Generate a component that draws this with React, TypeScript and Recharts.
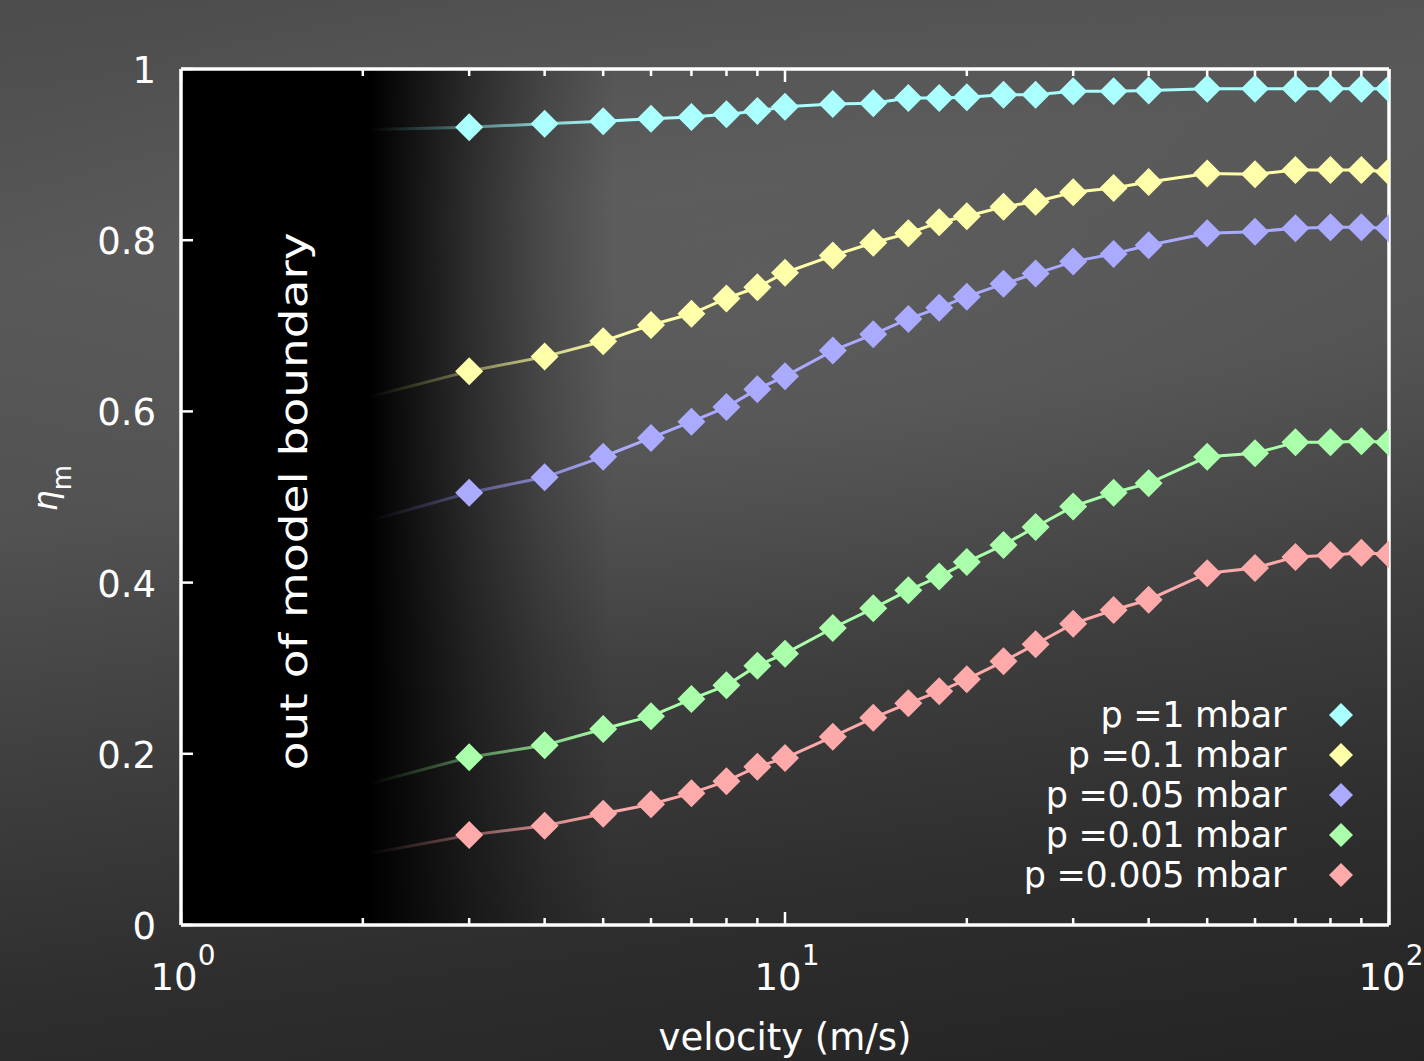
import React from 'react';
import { LineChart, Line, XAxis, YAxis, ReferenceArea, ReferenceDot, Legend } from 'recharts';

// ---- data ----
const velocity = [2, 3, 4, 5, 6, 7, 8, 9, 10, 12, 14, 16, 18, 20, 23, 26, 30, 35, 40, 50, 60, 70, 80, 90, 100];

const eta_p1 = [0.929, 0.932, 0.936, 0.939, 0.942, 0.944, 0.947, 0.951, 0.956, 0.959, 0.960, 0.966, 0.966, 0.967, 0.970, 0.970, 0.974, 0.974, 0.975, 0.977, 0.977, 0.977, 0.977, 0.977, 0.977];
const eta_p01 = [0.615, 0.647, 0.664, 0.682, 0.701, 0.714, 0.732, 0.745, 0.762, 0.782, 0.797, 0.808, 0.821, 0.828, 0.839, 0.845, 0.856, 0.861, 0.868, 0.878, 0.877, 0.882, 0.882, 0.882, 0.880];
const eta_p005 = [0.470, 0.505, 0.523, 0.547, 0.569, 0.588, 0.605, 0.626, 0.641, 0.671, 0.690, 0.708, 0.721, 0.734, 0.749, 0.761, 0.775, 0.784, 0.794, 0.808, 0.810, 0.814, 0.815, 0.815, 0.814];
const eta_p001 = [0.163, 0.196, 0.210, 0.229, 0.244, 0.264, 0.280, 0.303, 0.317, 0.347, 0.370, 0.391, 0.407, 0.424, 0.444, 0.465, 0.489, 0.505, 0.516, 0.547, 0.551, 0.564, 0.564, 0.565, 0.564];
const eta_p0005 = [0.082, 0.105, 0.116, 0.130, 0.141, 0.154, 0.168, 0.185, 0.195, 0.220, 0.242, 0.259, 0.273, 0.287, 0.308, 0.328, 0.352, 0.368, 0.380, 0.411, 0.417, 0.430, 0.432, 0.435, 0.433];

const seriesKeys = ['p1', 'p01', 'p005', 'p001', 'p0005'];
const seriesNames = ['p =1 mbar', 'p =0.1 mbar', 'p =0.05 mbar', 'p =0.01 mbar', 'p =0.005 mbar'];
const seriesColors = ['#aaffff', '#ffffaa', '#aaaaff', '#aaffaa', '#ffaaaa'];
const seriesValues = [eta_p1, eta_p01, eta_p005, eta_p001, eta_p0005];

const xTicks = [1, 2, 3, 4, 5, 6, 7, 8, 9, 10, 20, 30, 40, 50, 60, 70, 80, 90, 100];
const xMajor = [1, 10, 100];
const yTicks = [0, 0.2, 0.4, 0.6, 0.8, 1];
const yTickLabels = ['0', '0.2', '0.4', '0.6', '0.8', '1'];

const boundaryText = 'out of model boundary';
const boundaryX = 1.617;
const boundaryY = 0.495;
const boundaryFadeEnd = 5.2;

const data = velocity.map((v, i) => {
  const row: any = { v };
  seriesKeys.forEach((k, j) => { row[k] = seriesValues[j][i]; });
  return row;
});

const FONT = "'DejaVu Sans', 'Noto Sans', sans-serif";
const WHITE = '#ffffff';

const XBottomTick = (props: any) => {
  const { x, y, payload } = props;
  const v = payload.value;
  const major = xMajor.includes(v);
  const exp = Math.round(Math.log10(v));
  return (
    <g>
      <line x1={x} x2={x} y1={y} y2={y - (major ? 13 : 7)} stroke={WHITE} strokeWidth={2.5} />
      {major && (
        <text x={x + 2} y={y + 65} textAnchor="middle" fill={WHITE} fontSize={37} fontFamily={FONT}>
          10<tspan dy={-25} fontSize={28}>{exp}</tspan>
        </text>
      )}
    </g>
  );
};

const XTopTick = (props: any) => {
  const { x, y, payload } = props;
  const major = xMajor.includes(payload.value);
  return <line x1={x} x2={x} y1={y} y2={y + (major ? 13 : 7)} stroke={WHITE} strokeWidth={2.5} />;
};

const YLeftTick = (props: any) => {
  const { x, y, payload, index } = props;
  const i = yTicks.indexOf(payload.value);
  return (
    <g>
      <line x1={x} x2={x + 12} y1={y} y2={y} stroke={WHITE} strokeWidth={2.5} />
      <text x={x - 25} y={y + 14} textAnchor="end" fill={WHITE} fontSize={37} fontFamily={FONT}>
        {yTickLabels[i >= 0 ? i : index]}
      </text>
    </g>
  );
};

const YRightTick = (props: any) => {
  const { x, y } = props;
  return <line x1={x} x2={x - 12} y1={y} y2={y} stroke={WHITE} strokeWidth={2.5} />;
};

const makeDiamond = (color: string) => (props: any) => {
  const { cx, cy, index } = props;
  if (index === 0 || cx == null || cy == null) return <g key={`e${index}`} />;
  const r = 14;
  return (
    <path key={`d${index}`} d={`M${cx},${cy - r} L${cx + r},${cy} L${cx},${cy + r} L${cx - r},${cy} Z`} fill={color} />
  );
};

const LegendContent = () => (
  <div style={{ fontFamily: FONT, fontSize: 35, color: WHITE }}>
    {seriesNames.map((name, i) => (
      <div key={name} style={{ display: 'flex', alignItems: 'center', justifyContent: 'flex-end', height: 40 }}>
        <span style={{ lineHeight: '40px', whiteSpace: 'nowrap', letterSpacing: '-0.3px' }}>{name}</span>
        <svg width={24} height={24} style={{ marginLeft: 43, display: 'block' }}>
          <path d="M12,0 L24,12 L12,24 L0,12 Z" fill={seriesColors[i]} />
        </svg>
      </div>
    ))}
  </div>
);

const BoundaryLabel = (props: any) => {
  const { cx, cy } = props;
  if (cx == null || cy == null) return <g />;
  return (
    <text
      transform={`translate(${cx},${cy}) rotate(-90)`}
      textAnchor="middle"
      fill={WHITE}
      fontSize={37}
      fontFamily={FONT}
      textLength={538}
      lengthAdjust="spacingAndGlyphs"
    >
      {boundaryText}
    </text>
  );
};

export default function App() {
  return (
    <div
      style={{
        position: 'absolute',
        left: 0,
        top: 0,
        width: 1424,
        height: 1061,
        overflow: 'hidden',
        background:
          'radial-gradient(ellipse 60% 35% at 55% 28%, rgba(110,110,110,0.3), rgba(110,110,110,0) 100%), linear-gradient(172deg, #4c4c4c 0%, #585858 22%, #525252 42%, #3e3e3e 62%, #2e2e2e 80%, #242424 100%)',
      }}
    >
      <LineChart width={1424} height={1061} data={data} margin={{ top: 68, right: 34, bottom: 0, left: 0 }}>
        <defs>
          <linearGradient id="fadeBlack" x1="0" y1="0" x2="1" y2="0">
            <stop offset="0" stopColor="#000" stopOpacity={1} />
            <stop offset="0.437" stopColor="#000" stopOpacity={1} />
            <stop offset="0.506" stopColor="#000" stopOpacity={0.85} />
            <stop offset="0.67" stopColor="#000" stopOpacity={0.5} />
            <stop offset="0.839" stopColor="#000" stopOpacity={0.2} />
            <stop offset="1" stopColor="#000" stopOpacity={0} />
          </linearGradient>
        </defs>
        {seriesKeys.map((k, i) => (
          <Line
            key={k}
            type="linear"
            dataKey={k}
            name={seriesNames[i]}
            stroke={seriesColors[i]}
            strokeWidth={3}
            dot={makeDiamond(seriesColors[i])}
            activeDot={false}
            isAnimationActive={false}
          />
        ))}
        <ReferenceArea
          x1={1}
          x2={boundaryFadeEnd}
          y1={0}
          y2={1}
          fill="url(#fadeBlack)"
          fillOpacity={1}
          stroke="none"
          ifOverflow="visible"
          zIndex={450}
        />
        <ReferenceDot x={boundaryX} y={boundaryY} r={1} fill="none" stroke="none" shape={BoundaryLabel} zIndex={460} />
        <Legend
          layout="vertical"
          align="center"
          verticalAlign="middle"
          content={LegendContent}
          wrapperStyle={{ left: 983, top: 695, width: 370, height: 200 }}
        />
        <XAxis
          dataKey="v"
          type="number"
          scale="log"
          domain={[1, 100]}
          allowDataOverflow
          ticks={xTicks}
          interval={0}
          height={136}
          tickSize={0}
          tickMargin={0}
          tick={XBottomTick}
          axisLine={{ stroke: WHITE, strokeWidth: 3.5 }}
          label={{
            content: (p: any) => (
              <text
                x={p.viewBox.x + p.viewBox.width / 2}
                y={p.viewBox.y + 125}
                textAnchor="middle"
                fill={WHITE}
                fontSize={37}
                fontFamily={FONT}
              >
                velocity (m/s)
              </text>
            ),
          }}
        />
        <XAxis
          xAxisId="top"
          orientation="top"
          dataKey="v"
          type="number"
          scale="log"
          domain={[1, 100]}
          allowDataOverflow
          ticks={xTicks}
          interval={0}
          height={1}
          tickSize={0}
          tickMargin={0}
          tick={XTopTick}
          axisLine={{ stroke: WHITE, strokeWidth: 3.5 }}
        />
        <YAxis
          type="number"
          domain={[0, 1]}
          ticks={yTicks}
          interval={0}
          width={181}
          tickSize={0}
          tickMargin={0}
          tick={YLeftTick}
          axisLine={{ stroke: WHITE, strokeWidth: 3.5 }}
          label={{
            content: (p: any) => (
              <text
                transform={`translate(${p.viewBox.x + 57},${p.viewBox.y + 419}) rotate(-90)`}
                textAnchor="middle"
                fill={WHITE}
                fontSize={33}
                fontFamily={FONT}
              >
                <tspan fontStyle="italic">η</tspan>
                <tspan fontSize={26} dy={14}>m</tspan>
              </text>
            ),
          }}
        />
        <YAxis
          yAxisId="right"
          orientation="right"
          type="number"
          domain={[0, 1]}
          ticks={yTicks}
          interval={0}
          width={1}
          tickSize={0}
          tickMargin={0}
          tick={YRightTick}
          axisLine={{ stroke: WHITE, strokeWidth: 3.5 }}
        />
      </LineChart>
    </div>
  );
}
